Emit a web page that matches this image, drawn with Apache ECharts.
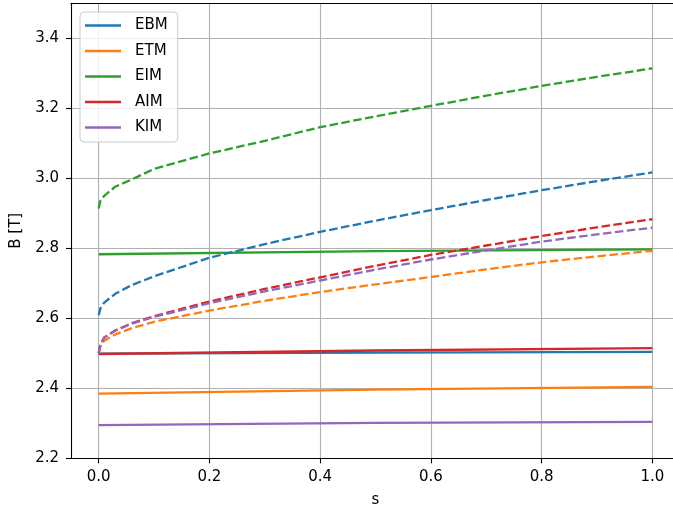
<!DOCTYPE html>
<html>
<head>
<meta charset="utf-8">
<script src="https://cdn.jsdelivr.net/npm/echarts@6/dist/echarts.min.js"></script>
<style>
html,body{margin:0;padding:0;background:#fff;overflow:hidden;}
#c{width:673px;height:511px;}
</style>
</head>
<body>
<div id="c"></div>
<script>
// ---- data ----
var names = ['EBM', 'ETM', 'EIM', 'AIM', 'KIM'];
var colors = ['#1f77b4', '#ff7f0e', '#2ca02c', '#d62728', '#9467bd'];

var sSolid = [0, 0.5, 1.0];
var solidEBM = [2.499, 2.502, 2.504];
var solidETM = [2.385, 2.396, 2.404];
var solidEIM = [2.783, 2.792, 2.797];
var solidAIM = [2.498, 2.508, 2.515];
var solidKIM = [2.295, 2.301, 2.304];

var sDash = [0, 0.003, 0.01, 0.03, 0.06, 0.1, 0.2, 0.3, 0.4, 0.5, 0.6, 0.7, 0.8, 0.9, 1.0];
var dashEBM = [2.609, 2.628, 2.645, 2.670, 2.695, 2.720, 2.773, 2.812, 2.847, 2.879, 2.909, 2.938, 2.966, 2.992, 3.017];
var dashETM = [2.500, 2.520, 2.536, 2.554, 2.572, 2.590, 2.622, 2.650, 2.675, 2.697, 2.718, 2.740, 2.760, 2.777, 2.793];
var dashEIM = [2.914, 2.935, 2.950, 2.976, 2.997, 3.027, 3.071, 3.107, 3.146, 3.177, 3.207, 3.236, 3.264, 3.290, 3.314];
var dashAIM = [2.500, 2.525, 2.545, 2.565, 2.586, 2.606, 2.648, 2.684, 2.717, 2.750, 2.781, 2.808, 2.835, 2.860, 2.883];
var dashKIM = [2.500, 2.525, 2.545, 2.565, 2.585, 2.604, 2.643, 2.677, 2.708, 2.739, 2.768, 2.794, 2.819, 2.840, 2.859];

var xTicks = [0, 0.2, 0.4, 0.6, 0.8, 1.0];
var yTicks = [2.2, 2.4, 2.6, 2.8, 3.0, 3.2, 3.4];

// ---- build ----
function pairs(xs, ys) { return xs.map(function (x, i) { return [x, ys[i]]; }); }
var solids = [solidEBM, solidETM, solidEIM, solidAIM, solidKIM];
var dashes = [dashEBM, dashETM, dashEIM, dashAIM, dashKIM];
var FONT = 'DejaVu Sans';
var FS = 15;
var series = [];
names.forEach(function (n, i) {
  series.push({
    name: n, type: 'line', data: pairs(sSolid, solids[i]), symbol: 'none',
    color: colors[i], lineStyle: { width: 2.3, color: colors[i] }, z: 2 + i, silent: true, animation: false
  });
});
names.forEach(function (n, i) {
  series.push({
    name: n + ' (dashed)', type: 'line', data: pairs(sDash, dashes[i]), symbol: 'none',
    color: colors[i], lineStyle: { width: 2.3, color: colors[i], type: [8.5, 3.5] }, z: 10 + i, silent: true, animation: false
  });
});

var chart = echarts.init(document.getElementById('c'), null, { renderer: 'canvas', width: 673, height: 511 });
chart.setOption({
  animation: false,
  backgroundColor: '#ffffff',
  textStyle: { fontFamily: FONT },
  grid: { left: 71, top: 3.3, width: 609, height: 455, outerBoundsMode: 'none', containLabel: false,
    show: false },
  legend: {
    data: names, orient: 'vertical', left: 80, top: 12,
    icon: 'rect', itemWidth: 36, itemHeight: 2.3, itemGap: 10.5,
    padding: [6, 10, 7, 5],
    backgroundColor: 'rgba(255,255,255,0.8)', borderColor: '#cccccc', borderWidth: 1, borderRadius: 4,
    textStyle: { fontFamily: FONT, fontSize: FS, color: '#000', lineHeight: 14.5, padding: [0, 0, 0, 9] },
    selectedMode: false
  },
  xAxis: [{
    type: 'value', min: -0.05, max: 1.05,
    name: 's', nameLocation: 'middle', nameGap: 34,
    nameTextStyle: { fontFamily: FONT, fontSize: FS, color: '#000' },
    axisLine: { show: true, onZero: false, lineStyle: { color: '#000', width: 1.1 } },
    axisTick: { show: true, length: 5, lineStyle: { color: '#000', width: 1.1 }, customValues: xTicks },
    axisLabel: { fontFamily: FONT, fontSize: FS, color: '#000', margin: 11, customValues: xTicks,
      formatter: function (v) { return v.toFixed(1); } },
    splitLine: { show: true, lineStyle: { color: '#b0b0b0', width: 1.1 } }
  }, {
    type: 'value', min: -0.05, max: 1.05, position: 'top',
    axisLine: { show: true, onZero: false, lineStyle: { color: '#000', width: 1.1 } },
    axisTick: { show: false }, axisLabel: { show: false }, splitLine: { show: false }
  }],
  yAxis: {
    type: 'value', min: 2.2, max: 3.5,
    name: 'B [T]', nameLocation: 'middle', nameGap: 47,
    nameTextStyle: { fontFamily: FONT, fontSize: FS, color: '#000' },
    axisLine: { show: true, onZero: false, lineStyle: { color: '#000', width: 1.1 } },
    axisTick: { show: true, length: 5, lineStyle: { color: '#000', width: 1.1 }, customValues: yTicks },
    axisLabel: { fontFamily: FONT, fontSize: FS, color: '#000', margin: 12, customValues: yTicks,
      formatter: function (v) { return v.toFixed(1); } },
    splitLine: { show: true, lineStyle: { color: '#b0b0b0', width: 1.1 } }
  },
  series: series
});
</script>
</body>
</html>
